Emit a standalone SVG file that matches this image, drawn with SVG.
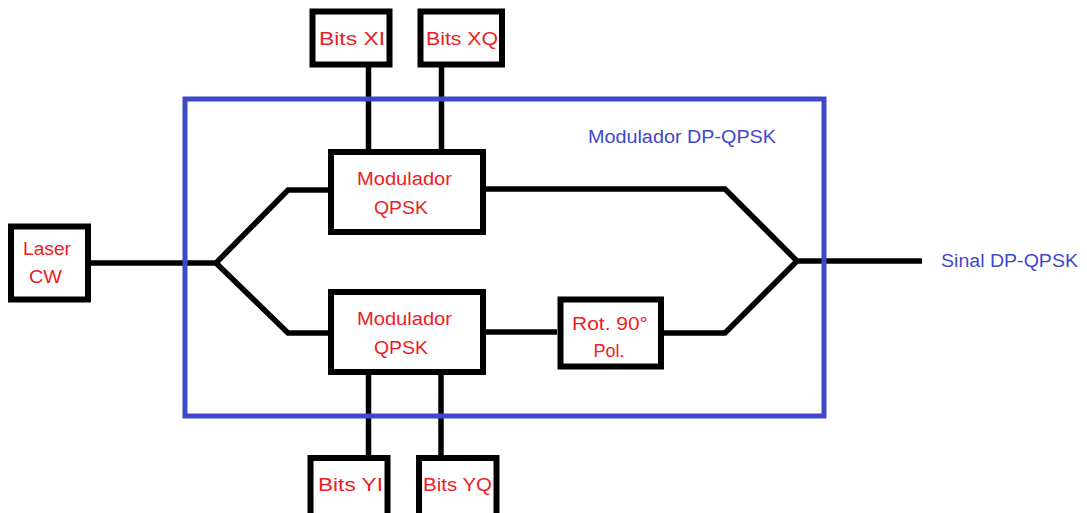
<svg xmlns="http://www.w3.org/2000/svg" width="1087" height="513" viewBox="0 0 1087 513">
<style>
.box{fill:#fff;stroke:#000;stroke-width:6}
.ln{fill:none;stroke:#000;stroke-width:5.5;stroke-linejoin:miter}
.frame{fill:none;stroke:#3f48cc;stroke-width:5}
.t{font-family:"Liberation Sans",Arial,sans-serif;font-size:18px;fill:#ed1c24;text-anchor:start}
.b{font-family:"Liberation Sans",Arial,sans-serif;font-size:18px;fill:#3f48cc}
</style>
<rect width="1087" height="513" fill="#fff"/>
<g id="connectors">
<path class="ln" d="M90 263 H216 L288 190 H331"/>
<path class="ln" d="M216 263 L288 333 H331"/>
<path class="ln" d="M483 189 H725 L797 261 L725 333 H664"/>
<path class="ln" d="M483 332 H557"/>
<path class="ln" d="M797 261 H922"/>
<path class="ln" d="M368.5 67 V152 M441.5 67 V152"/>
<path class="ln" d="M368.5 372 V456 M441 372 V456"/>
</g>
<g id="dpqpsk">
<rect class="frame" x="185" y="99" width="639" height="317"/>
<text class="b" x="588" y="143" textLength="188" lengthAdjust="spacingAndGlyphs">Modulador DP-QPSK</text>
</g>
<g id="laser">
<rect class="box" x="11" y="226.5" width="77" height="73"/>
<text class="t" x="23" y="255" textLength="48" lengthAdjust="spacingAndGlyphs">Laser</text>
<text class="t" x="29" y="283" textLength="33" lengthAdjust="spacingAndGlyphs">CW</text>
</g>
<g id="bitsXI">
<rect class="box" x="312.5" y="11.5" width="77" height="53"/>
<text class="t" x="319" y="45" textLength="66" lengthAdjust="spacingAndGlyphs">Bits XI</text>
</g>
<g id="bitsXQ">
<rect class="box" x="420.5" y="11.5" width="81.5" height="53"/>
<text class="t" x="426" y="45" textLength="72" lengthAdjust="spacingAndGlyphs">Bits XQ</text>
</g>
<g id="modX">
<rect class="box" x="331" y="152" width="152" height="80"/>
<text class="t" x="357" y="185" textLength="95" lengthAdjust="spacingAndGlyphs">Modulador</text>
<text class="t" x="374" y="214" textLength="54" lengthAdjust="spacingAndGlyphs">QPSK</text>
</g>
<g id="modY">
<rect class="box" x="331" y="292" width="152" height="80"/>
<text class="t" x="357" y="325" textLength="95" lengthAdjust="spacingAndGlyphs">Modulador</text>
<text class="t" x="374" y="354" textLength="54" lengthAdjust="spacingAndGlyphs">QPSK</text>
</g>
<g id="rot">
<rect class="box" x="560.5" y="299.5" width="100.5" height="67"/>
<text class="t" x="572" y="330" textLength="76" lengthAdjust="spacingAndGlyphs">Rot. 90°</text>
<text class="t" x="609" y="357" style="text-anchor:middle">Pol.</text>
</g>
<g id="bitsYI">
<rect class="box" x="310.5" y="458" width="77" height="70"/>
<text class="t" x="318" y="491" textLength="65" lengthAdjust="spacingAndGlyphs">Bits YI</text>
</g>
<g id="bitsYQ">
<rect class="box" x="419" y="458" width="77.5" height="70"/>
<text class="t" x="423" y="491" textLength="69" lengthAdjust="spacingAndGlyphs">Bits YQ</text>
</g>
<g id="out">
<text class="b" x="941" y="267" textLength="137" lengthAdjust="spacingAndGlyphs">Sinal DP-QPSK</text>
</g>
</svg>
